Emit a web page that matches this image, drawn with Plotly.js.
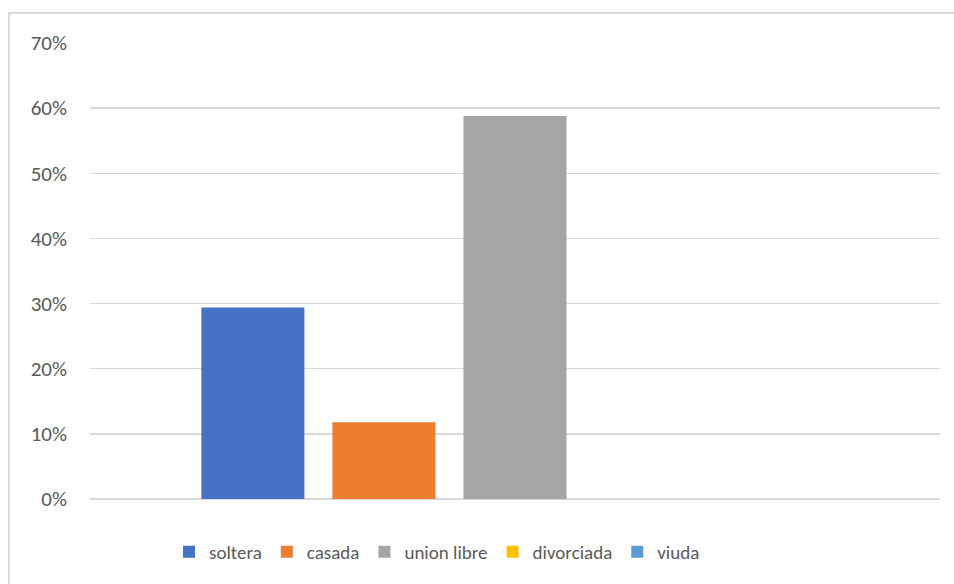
<!DOCTYPE html>
<html>
<head>
<meta charset="utf-8">
<script src="https://cdn.plot.ly/plotly-3.0.1.min.js"></script>
<style>
  html, body { margin: 0; padding: 0; background: #ffffff; }
  #wrap { position: relative; width: 954px; height: 584px; overflow: hidden; }
  #chart { position: absolute; left: 0; top: 0; width: 954px; height: 584px; }
  #frame { position: absolute; left: 8px; top: 12px; width: 960px; height: 600px;
           border-top: 2px solid #d9d9d9; border-left: 2px solid #d9d9d9; pointer-events: none; }
</style>
</head>
<body>
<div id="wrap">
  <div id="chart"></div>
  <div id="frame"></div>
</div>
<script>
// Data
const categories = ['Estado civil'];
const seriesNames = ['soltera', 'casada', 'union libre', 'divorciada', 'viuda'];
const seriesValues = [0.294, 0.118, 0.588, 0, 0];
const seriesColors = ['#4472C4', '#ED7D31', '#A5A5A5', '#FFC000', '#5B9BD5'];
const tickValues = [0, 0.1, 0.2, 0.3, 0.4, 0.5, 0.6, 0.7];
const tickLabels = ['0%', '10%', '20%', '30%', '40%', '50%', '60%', '70%'];

const fontFamily = 'Calibri, Carlito, Lato, "Open Sans", sans-serif';

const traces = seriesNames.map((name, i) => ({
  type: 'bar',
  name: name,
  x: categories,
  y: [seriesValues[i]],
  marker: { color: seriesColors[i], line: { width: 0 } },
  hoverinfo: 'name+y'
}));

const layout = {
  width: 954,
  height: 584,
  margin: { l: 90, r: 14, t: 43, b: 85 },
  paper_bgcolor: '#ffffff',
  plot_bgcolor: '#ffffff',
  barmode: 'group',
  bargap: 0.229,
  bargroupgap: 0.214,
  font: { family: fontFamily, size: 19, color: '#595959' },
  xaxis: {
    showticklabels: false,
    showgrid: false,
    zeroline: false,
    showline: false,
    ticks: ''
  },
  yaxis: {
    range: [0, 0.7],
    tickvals: tickValues,
    ticktext: tickLabels,
    showgrid: true,
    gridcolor: '#d9d9d9',
    gridwidth: 1.5,
    zeroline: true,
    zerolinecolor: '#d9d9d9',
    zerolinewidth: 1.5,
    showline: false,
    ticks: '',
    ticklabelstandoff: 22,
    tickfont: { family: fontFamily, size: 21, color: '#595959' }
  },
  showlegend: true,
  legend: {
    orientation: 'h',
    x: 0.093,
    xanchor: 'left',
    y: -0.116,
    yanchor: 'middle',
    font: { family: fontFamily, size: 19, color: '#595959' },
    bgcolor: 'rgba(0,0,0,0)',
    borderwidth: 0,
    itemclick: false,
    itemdoubleclick: false
  }
};

Plotly.newPlot('chart', traces, layout, { displayModeBar: false, staticPlot: true });
</script>
</body>
</html>
